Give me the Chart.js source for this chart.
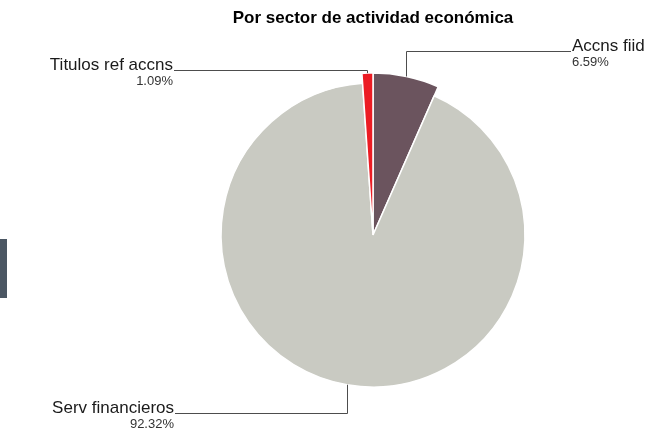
<!DOCTYPE html>
<html>
<head>
<meta charset="utf-8">
<script src="https://cdn.jsdelivr.net/npm/chart.js@4.4.1/dist/chart.umd.min.js"></script>
<style>
  html, body { margin: 0; padding: 0; background: #ffffff; }
  #wrap { position: relative; width: 660px; height: 430px; }
  #marker { position: absolute; left: 0; top: 239px; width: 7px; height: 59px; background: #4b5763; }
</style>
</head>
<body>
<div id="wrap">
  <canvas id="c" width="660" height="430"></canvas>
  <div id="marker"></div>
</div>
<script>
// ---- data ----
const titleText = 'Por sector de actividad económica';
const categories = ['Accns fiid', 'Serv financieros', 'Titulos ref accns'];
const shares = [6.59, 92.32, 1.09];
const percentLabels = ['6.59%', '92.32%', '1.09%'];

// ---- styles ----
const sliceColors = ['#6b545e', '#c9cac2', '#ec1c24'];
const extraRadius = [10, 0, 10];          // small slices drawn slightly larger
const labelLayout = [
  { x: 571, y: 51,  side: 'right' },
  { x: 175, y: 413, side: 'left'  },
  { x: 174, y: 70,  side: 'left'  }
];
const FONT = "'Liberation Sans', Arial, sans-serif";

const enlargePlugin = {
  id: 'enlarge',
  afterDatasetsUpdate(chart) {
    const meta = chart.getDatasetMeta(0);
    meta.data.forEach((arc, i) => {
      arc.outerRadius = arc.outerRadius + (extraRadius[i] || 0);
    });
  }
};

const leaderPlugin = {
  id: 'leaders',
  afterDatasetsDraw(chart) {
    const ctx = chart.ctx;
    const meta = chart.getDatasetMeta(0);
    ctx.save();
    meta.data.forEach((arc, i) => {
      const p = arc.getProps(['x', 'y', 'startAngle', 'endAngle', 'outerRadius'], true);
      const mid = (p.startAngle + p.endAngle) / 2;
      const px = p.x + Math.cos(mid) * p.outerRadius;
      const py = p.y + Math.sin(mid) * p.outerRadius;
      const L = labelLayout[i];
      ctx.strokeStyle = '#4d4d4d';
      ctx.lineWidth = 1;
      ctx.beginPath();
      ctx.moveTo(Math.round(px) + 0.5, py);
      ctx.lineTo(Math.round(px) + 0.5, L.y + 0.5);
      ctx.lineTo(L.x, L.y + 0.5);
      ctx.stroke();

      ctx.fillStyle = '#1a1a1a';
      ctx.textBaseline = 'alphabetic';
      ctx.textAlign = L.side === 'right' ? 'left' : 'right';
      const tx = L.side === 'right' ? L.x + 1 : L.x - 1;
      ctx.font = '17px ' + FONT;
      ctx.fillText(categories[i], tx, L.y);
      ctx.font = '13px ' + FONT;
      ctx.fillStyle = '#333333';
      ctx.fillText(percentLabels[i], tx, L.y + 15);
    });
    ctx.restore();
  }
};

new Chart(document.getElementById('c'), {
  type: 'pie',
  data: {
    labels: categories,
    datasets: [{
      data: shares,
      backgroundColor: sliceColors,
      borderColor: '#ffffff',
      borderWidth: 1.5,
      radius: 152,
      hoverOffset: 0
    }]
  },
  options: {
    responsive: false,
    animation: false,
    events: [],
    layout: { padding: { left: 200, right: 114, top: 0, bottom: 0 } },
    plugins: {
      legend: { display: false },
      tooltip: { enabled: false },
      title: {
        display: true,
        text: titleText,
        color: '#000000',
        font: { family: FONT, size: 17, weight: 'bold' },
        padding: { top: 8, bottom: 11.6 }
      }
    }
  },
  plugins: [enlargePlugin, leaderPlugin]
});
</script>
</body>
</html>
